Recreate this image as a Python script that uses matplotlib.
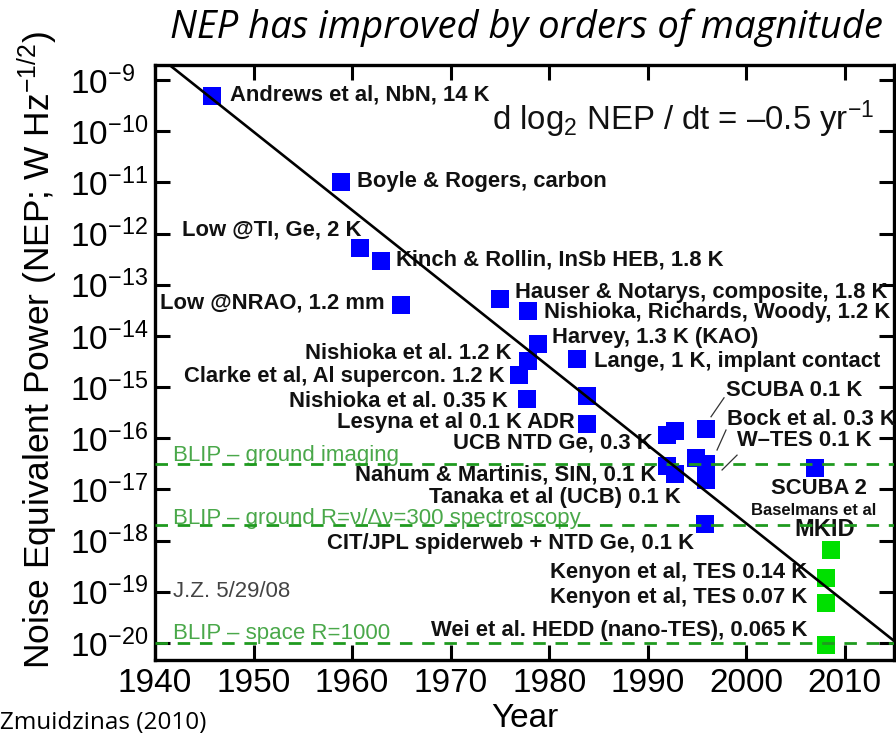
import matplotlib
matplotlib.use('Agg')
import matplotlib.pyplot as plt
from matplotlib.ticker import NullLocator, FixedLocator

plt.rcParams['font.family'] = ['Liberation Sans', 'DejaVu Sans']
plt.rcParams['mathtext.fontset'] = 'custom'
plt.rcParams['mathtext.rm'] = 'Liberation Sans'
plt.rcParams['mathtext.it'] = 'Liberation Sans:italic'
plt.rcParams['mathtext.bf'] = 'Liberation Sans:bold'
plt.rcParams['mathtext.sf'] = 'Liberation Sans'

# ---------------- data ----------------
blue_years = [1945.8, 1958.9, 1960.8, 1962.9, 1965.0, 1975.0, 1977.9, 1978.9,
              1977.9, 1976.9, 1982.8, 1977.8, 1983.8, 1983.8, 1992.0, 1992.8,
              1995.9, 1992.0, 1992.8, 1994.9, 1995.9, 1995.9, 2007.0, 1995.8]
blue_nep = [4.9e-10, 1.0e-11, 5.2e-13, 2.95e-13, 4.0e-14, 5.2e-14, 3.1e-14, 6.9e-15,
            3.2e-15, 1.74e-15, 3.6e-15, 5.9e-16, 6.8e-16, 1.86e-16, 1.15e-16, 1.38e-16,
            1.55e-16, 2.9e-17, 2.0e-17, 4.1e-17, 3.2e-17, 1.5e-17, 2.6e-17, 2.1e-18]
mkid_years = [2008.6, 2008.1, 2008.1, 2008.1]
mkid_nep = [6.6e-19, 1.9e-19, 6.0e-20, 9.1e-21]

trend_years = [1940, 2015]
trend_nep = [3.3e-9, 1.1e-20]

blip_levels = [3.1e-17, 2.0e-18, 1.0e-20]
blip_names = ['BLIP \u2013 ground imaging',
              'BLIP \u2013 ground R=\u03bd/\u0394\u03bd=300 spectroscopy',
              'BLIP \u2013 space R=1000']

year_ticks = [1940, 1950, 1960, 1970, 1980, 1990, 2000, 2010]
exp_ticks = [-9, -10, -11, -12, -13, -14, -15, -16, -17, -18, -19, -20]

point_labels = [
    'Andrews et al, NbN, 14 K', 'Boyle & Rogers, carbon', 'Low @TI, Ge, 2 K',
    'Kinch & Rollin, InSb HEB, 1.8 K', 'Low @NRAO, 1.2 mm',
    'Hauser & Notarys, composite, 1.8 K', 'Nishioka, Richards, Woody, 1.2 K',
    'Harvey, 1.3 K (KAO)', 'Nishioka et al. 1.2 K', 'Clarke et al, Al supercon. 1.2 K',
    'Lange, 1 K, implant contact', 'Nishioka et al. 0.35 K', 'SCUBA 0.1 K',
    'Lesyna et al 0.1 K ADR', 'Bock et al. 0.3 K', 'UCB NTD Ge, 0.3 K',
    'W\u2013TES 0.1 K', 'Nahum & Martinis, SIN, 0.1 K', 'Tanaka et al (UCB) 0.1 K',
    'SCUBA 2', 'CIT/JPL spiderweb + NTD Ge, 0.1 K', 'Kenyon et al, TES 0.14 K',
    'Kenyon et al, TES 0.07 K', 'Wei et al. HEDD (nano-TES), 0.065 K',
]

# ---------------- layout (label anchors: year, log10 NEP, ha) ----------------
label_pos = [
    (1947.6, -9.29, 'left'), (1960.5, -10.99, 'left'), (1942.7, -11.93, 'left'),
    (1964.5, -12.52, 'left'), (1963.3, -13.36, 'right'),
    (1976.5, -13.16, 'left'), (1979.5, -13.55, 'left'),
    (1980.3, -14.04, 'left'), (1976.2, -14.35, 'right'), (1975.5, -14.80, 'right'),
    (1984.6, -14.51, 'left'), (1975.8, -15.29, 'right'), (1998.0, -15.06, 'left'),
    (1982.6, -15.70, 'right'), (1998.05, -15.64, 'left'), (1990.5, -16.09, 'right'),
    (1999.1, -16.05, 'left'), (1990.9, -16.72, 'right'), (1993.4, -17.15, 'right'),
    (2007.4, -16.99, 'center'), (1994.7, -18.05, 'right'), (2006.2, -18.63, 'right'),
    (2006.2, -19.12, 'right'), (2006.2, -19.75, 'right'),
]
leaders = [((1997.75, -15.21), (1996.43, -15.58)),
           ((1997.95, -15.84), (1997.04, -16.23)),
           ((1999.07, -16.33), (1997.55, -16.62))]
blip_text_y = [-16.33, -17.56, -19.81]

W, H = 896, 735
fig = plt.figure(figsize=(W / 100, H / 100), dpi=100)
ax = fig.add_axes([155 / W, 75 / H, 739 / W, 595 / H])
ax.set_yscale('log')
ax.set_xlim(1940, 2015)
ax.set_ylim(10 ** -20.333, 10 ** -8.707)

ax.plot(blue_years, blue_nep, 's', color='#0000ff', ms=13.5, mew=0, zorder=2)
ax.plot(mkid_years, mkid_nep, 's', color='#00e000', ms=13.5, mew=0, zorder=2)
ax.plot(trend_years, trend_nep, '-', color='black', lw=1.9, zorder=5)

for lev, name, ty in zip(blip_levels, blip_names, blip_text_y):
    ax.axhline(lev, color='#1f9a1f', lw=2.0, ls=(0, (4.5, 3.5)), zorder=4)
    ax.text(1941.8, 10 ** ty, name, color='#4aa84a', fontsize=16, ha='left',
            va='center', zorder=3)

for txt, (x, y, ha) in zip(point_labels, label_pos):
    ax.text(x, 10 ** y, txt, fontsize=15.8, fontweight='bold', ha=ha, va='center',
            color='#111111', zorder=3)

ax.text(2000.5, 10 ** -17.42, 'Baselmans et al', fontsize=12, fontweight='bold',
        ha='left', va='center', color='#111111', zorder=3)
ax.text(2008.0, 10 ** -17.78, 'MKID', fontsize=17, fontweight='bold',
        ha='center', va='center', color='#111111', zorder=3)

for (x0, y0), (x1, y1) in leaders:
    ax.plot([x0, x1], [10 ** y0, 10 ** y1], color='#333333', lw=0.9, zorder=3)

ax.text(1941.8, 10 ** -19.0, 'J.Z. 5/29/08', fontsize=16, color='#444444',
        ha='left', va='center')
ax.text(1974.25, 10 ** -9.98, 'd log$_2$ NEP / dt = \u20130.5 yr$^{-1}$',
        fontsize=23.7, ha='left', va='baseline', color='#111111')

# ticks
ax.xaxis.set_major_locator(FixedLocator(year_ticks))
ax.set_xticklabels([str(y) for y in year_ticks])
ax.set_yticks([10.0 ** e for e in exp_ticks])
ax.set_yticklabels(['$10^{%d}$' % e for e in exp_ticks], ha='left')
ax.yaxis.set_minor_locator(NullLocator())
ax.xaxis.set_minor_locator(NullLocator())
ax.tick_params(axis='both', which='major', direction='in', length=11, width=2.2,
               top=True, right=True, labelsize=24)
ax.tick_params(axis='y', pad=61)
ax.tick_params(axis='x', pad=6)
for s in ax.spines.values():
    s.set_linewidth(2.4)

fig.text(38 / W, 1 - 350 / H, 'Noise Equivalent Power (NEP; W Hz$^{-1/2}$)',
         rotation=90, fontsize=25.5, ha='center', va='center')
fig.text(525 / W, 1 - 727 / H, 'Year', fontsize=24, ha='center', va='baseline')
fig.text(526 / W, 1 - 38 / H, 'NEP has improved by orders of magnitude',
         fontsize=27.5, family='Open Sans', style='italic', ha='center', va='baseline')
fig.text(0.0, 1 - 729 / H, 'Zmuidzinas (2010)', fontsize=17.5, family='Open Sans',
         ha='left', va='baseline')

fig.savefig('out.png', dpi=100)
